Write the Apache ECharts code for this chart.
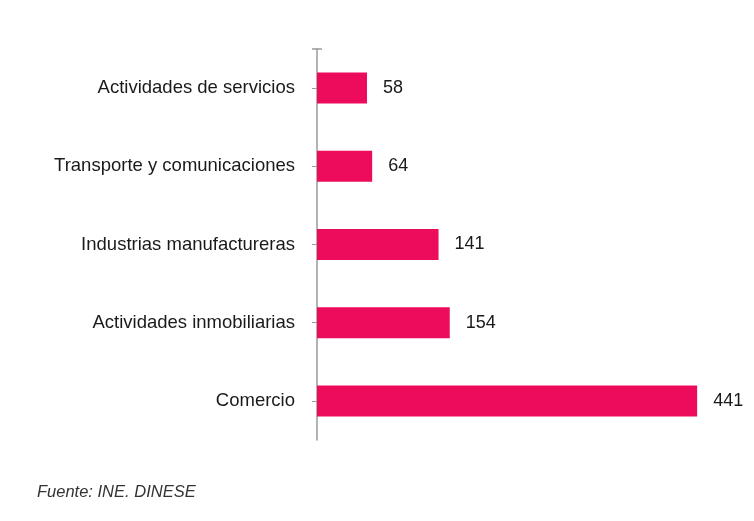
<!DOCTYPE html>
<html><head><meta charset="utf-8">
<script src="https://cdn.jsdelivr.net/npm/echarts@6/dist/echarts.min.js"></script>
<style>html,body{margin:0;padding:0;background:#fff}#c{width:754px;height:521px}</style>
</head><body><div id="c"></div>
<script>
var categories = ['Actividades de servicios','Transporte y comunicaciones','Industrias manufactureras','Actividades inmobiliarias','Comercio'];
var values = [58, 64, 141, 154, 441];
var sourceText = 'Fuente: INE. DINESE';

var chart = echarts.init(document.getElementById('c'));
chart.setOption({
  backgroundColor: '#ffffff',
  animation: false,
  grid: {left: 317, right: 6, top: 49, bottom: 81},
  xAxis: {type: 'value', min: 0, max: 500, show: false},
  yAxis: {
    type: 'category', data: categories, inverse: true,
    axisLine: {show: true, lineStyle: {color: '#9a9a9a', width: 1.5},
      symbol: ['none', 'rect'], symbolSize: [10, 1.5]},
    axisTick: {show: true, alignWithLabel: true, length: 5, lineStyle: {color: '#9a9a9a'}},
    axisLabel: {margin: 22, color: '#1a1a1a', fontSize: 18.5, fontFamily: 'Liberation Sans, Arial, sans-serif'}
  },
  series: [{
    type: 'bar', data: values, barWidth: 31,
    itemStyle: {color: '#ec0c5b'},
    label: {show: true, position: 'right', distance: 16, color: '#1a1a1a', fontSize: 18, fontFamily: 'Liberation Sans, Arial, sans-serif'}
  }],
  graphic: [{type: 'text', left: 37, top: 484, style: {text: sourceText, fill: '#333', fontSize: 16.5, fontStyle: 'italic', fontFamily: 'Liberation Sans, Arial, sans-serif'}}]
});
</script></body></html>
